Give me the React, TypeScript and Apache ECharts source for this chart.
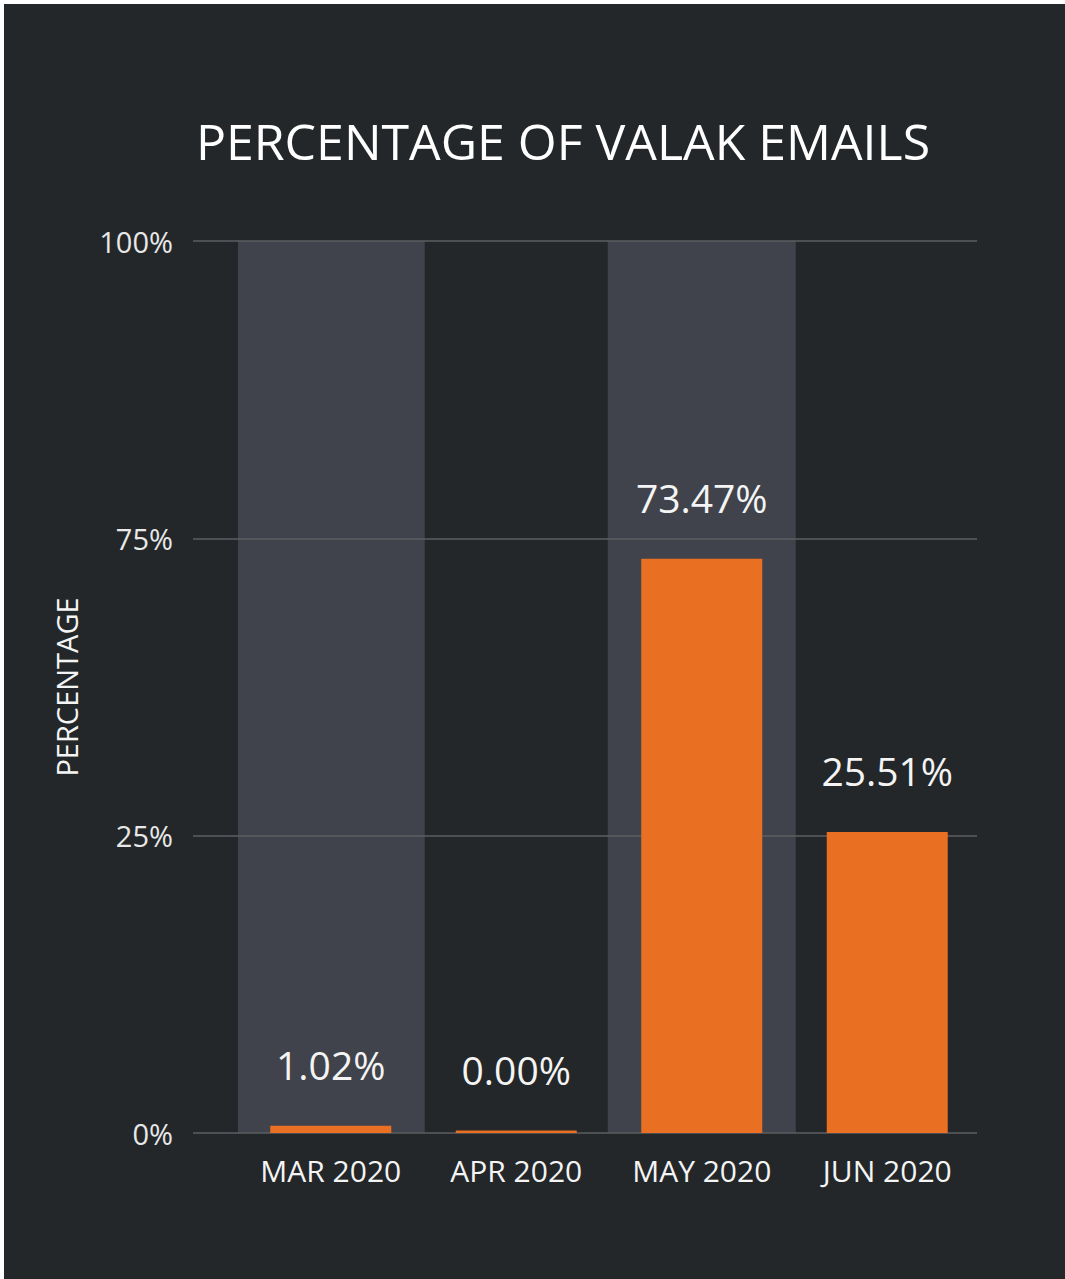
import React, { useEffect, useRef } from "react";
import * as echarts from "echarts";

// ---- data ----
const title = "PERCENTAGE OF VALAK EMAILS";
const categories = ["MAR 2020", "APR 2020", "MAY 2020", "JUN 2020"];
const valueLabels = ["1.02%", "0.00%", "73.47%", "25.51%"];
// bar heights as drawn in units of the (evenly spaced) gridline steps
const barHeights = [0.024, 0.008, 1.931, 1.012];
// tick labels of the evenly spaced gridlines, bottom to top
const yTickLabels = ["0%", "25%", "75%", "100%"];
// columns that carry a grey highlight band
const highlighted = [true, false, true, false];
const yAxisName = "PERCENTAGE";

const FONT = "'Open Sans', 'Noto Sans', sans-serif";
const BG = "#232729";

export default function App() {
  const ref = useRef<HTMLDivElement>(null);
  useEffect(() => {
    if (!ref.current) return;
    const chart = echarts.init(ref.current, undefined, { renderer: "svg" });
    const yMax = yTickLabels.length - 1;
    chart.setOption({
      animation: false,
      backgroundColor: BG,
      textStyle: { fontFamily: FONT },
      graphic: [
        {
          type: "text",
          x: 559,
          y: 137,
          style: {
            text: title,
            fill: "#ffffff",
            font: `50px ${FONT}`,
            textAlign: "center",
            textVerticalAlign: "middle",
          },
        },
      ],
      grid: [
        { left: 189, right: 88, top: 237, bottom: 146 },
        { left: 234, width: 742, top: 237, bottom: 146 },
      ],
      xAxis: [
        { gridIndex: 0, type: "value", show: false, min: 0, max: 1 },
        {
          gridIndex: 1,
          type: "category",
          data: categories,
          axisLine: { show: false },
          axisTick: { show: false },
          axisLabel: {
            color: "#f4f4f4",
            fontSize: 30,
            fontFamily: FONT,
            margin: 22,
          },
        },
        { gridIndex: 1, type: "category", data: categories, show: false },
      ],
      yAxis: [
        {
          gridIndex: 0,
          type: "value",
          min: 0,
          max: yMax,
          interval: 1,
          name: yAxisName,
          nameLocation: "middle",
          nameRotate: 90,
          nameGap: 112,
          nameTextStyle: { color: "#f4f4f4", fontSize: 29, fontFamily: FONT },
          axisLine: { show: false },
          axisTick: { show: false },
          axisLabel: {
            color: "#e8e8e8",
            fontSize: 29,
            fontFamily: FONT,
            margin: 20,
            formatter: (v: number) => yTickLabels[Math.round(v)] ?? "",
          },
          splitLine: { show: true, lineStyle: { color: "#5c5e61", width: 1.5 } },
        },
        { gridIndex: 1, type: "value", min: 0, max: yMax, interval: 1, show: false },
      ],
      series: [
        {
          type: "bar",
          xAxisIndex: 2,
          yAxisIndex: 1,
          z: -1,
          barWidth: 188,
          itemStyle: { color: "#40434b" },
          data: highlighted.map((h) => (h ? yMax : null)),
          silent: true,
        },
        {
          type: "bar",
          xAxisIndex: 1,
          yAxisIndex: 1,
          barWidth: 121,
          itemStyle: { color: "#e96f22" },
          data: barHeights,
          label: {
            show: true,
            position: "top",
            distance: 42,
            color: "#f4f4f4",
            fontSize: 39,
            fontFamily: FONT,
            formatter: (p: any) => valueLabels[p.dataIndex],
          },
        },
      ],
    });
    return () => chart.dispose();
  }, []);
  return (
    <div
      style={{
        position: "absolute",
        left: 0,
        top: 0,
        width: 1065,
        height: 1279,
        overflow: "hidden",
        background: BG,
      }}
    >
      <div style={{ position: "absolute", left: 0, top: 0, width: 1065, height: 4, background: "#ffffff" }} />
      <div style={{ position: "absolute", left: 0, top: 0, width: 4, height: 1279, background: "#ffffff" }} />
      <div
        ref={ref}
        style={{ position: "absolute", left: 4, top: 4, width: 1061, height: 1275 }}
      />
    </div>
  );
}
